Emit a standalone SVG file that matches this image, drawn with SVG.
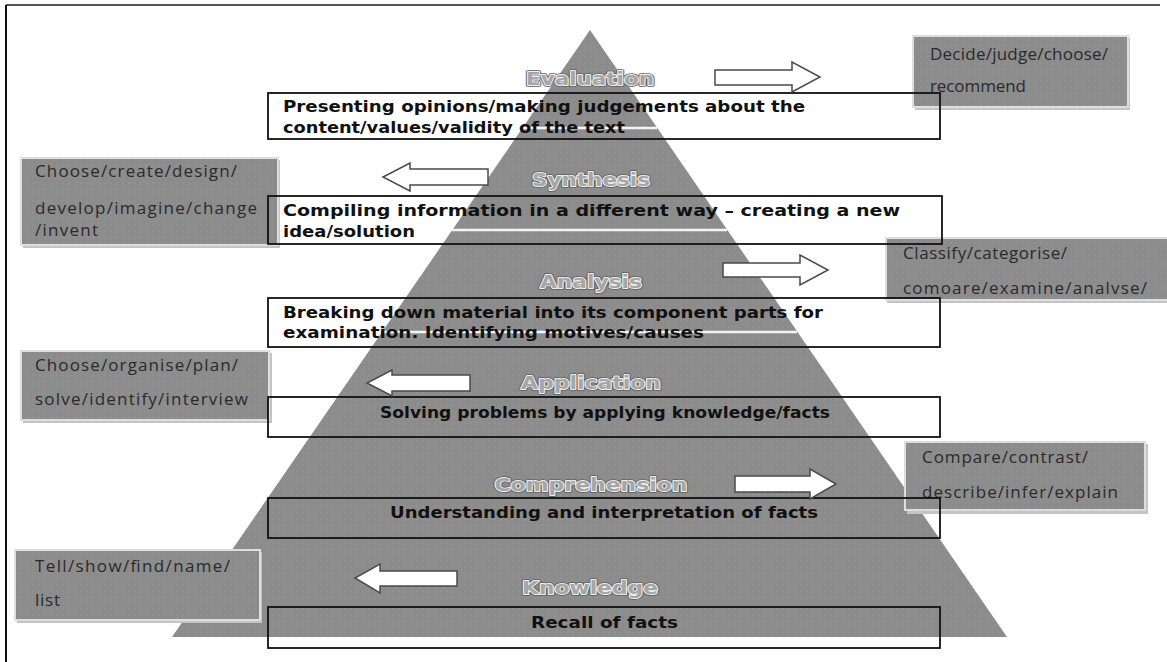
<svg xmlns="http://www.w3.org/2000/svg" width="1167" height="662" viewBox="0 0 1167 662">
  <defs>
    <pattern id="dots" width="6" height="6" patternUnits="userSpaceOnUse">
      <rect width="6" height="6" fill="#8c8c8c"/>
      <circle cx="3" cy="3" r="0.6" fill="#a0a0a0"/>
    </pattern>
    <style>
      .frame-top { stroke: #555; stroke-width: 2; }
      .frame-left { stroke: #111; stroke-width: 2; }
      .sep { stroke: #f4f4f4; stroke-width: 2.5; }
      .desc-box { fill: none; stroke: #111; stroke-width: 1.8; }
      .desc { font-family: "DejaVu Sans", "Liberation Sans", sans-serif; font-weight: bold; font-size: 16.5px; fill: #111; }
      .side-shadow { fill: #c4c4c4; }
      .side-box { fill: url(#dots); stroke: #dedede; stroke-width: 2; }
      .verb { font-family: "Open Sans", "Liberation Sans", sans-serif; font-size: 17px; fill: #2a2a2a; }
      .lvl { font-family: "DejaVu Sans", sans-serif; font-weight: bold; font-size: 17px; text-anchor: middle; }
      .lvl-a { fill: none; stroke: #5e5e5e; stroke-width: 3.4; stroke-linejoin: round; }
      .lvl-b { fill: none; stroke: #f0f0f0; stroke-width: 1.8; stroke-linejoin: round; }
      .lvl-c { fill: #a6a6a6; }
      .arrow { fill: #fff; stroke: #4a4a4a; stroke-width: 1.5; stroke-linejoin: miter; }
    </style>
  </defs>

  <rect width="1167" height="662" fill="#fff"/>

  <!-- outer frame -->
  <line class="frame-top" x1="6" y1="5" x2="1160" y2="5"/>
  <line class="frame-left" x1="6" y1="5" x2="6" y2="662"/>

  <!-- pyramid body -->
  <g id="pyramid">
    <polygon points="590,30 1007,637 172,637" fill="url(#dots)"/>
    <line class="sep" x1="522" y1="128" x2="657" y2="128"/>
    <line class="sep" x1="452" y1="230" x2="727" y2="230"/>
    <line class="sep" x1="382" y1="332" x2="797" y2="332"/>
  </g>

  <!-- verb panels beside the pyramid -->
  <g id="verbs-evaluation">
    <rect class="side-shadow" x="915" y="38" width="215" height="72"/>
    <rect class="side-box" x="913" y="36" width="215" height="71"/>
    <text class="verb" x="930" y="60" textLength="178">Decide/judge/choose/</text>
    <text class="verb" x="930" y="92" textLength="96">recommend</text>
  </g>
  <g id="verbs-synthesis">
    <rect class="side-shadow" x="23" y="160" width="257" height="88"/>
    <rect class="side-box" x="21" y="158" width="257" height="87"/>
    <text class="verb" x="35" y="177" textLength="202">Choose/create/design/</text>
    <text class="verb" x="35" y="214" textLength="222">develop/imagine/change</text>
    <text class="verb" x="35" y="236" textLength="63">/invent</text>
  </g>
  <g id="verbs-analysis">
    <rect class="side-shadow" x="887" y="240" width="282" height="63"/>
    <rect class="side-box" x="886" y="238" width="283" height="62"/>
    <text class="verb" x="903" y="259" textLength="164">Classify/categorise/</text>
    <text class="verb" x="903" y="294" textLength="244">comoare/examine/analvse/</text>
  </g>
  <g id="verbs-application">
    <rect class="side-shadow" x="23" y="353" width="249" height="70"/>
    <rect class="side-box" x="21" y="351" width="248" height="69"/>
    <text class="verb" x="35" y="371" textLength="203">Choose/organise/plan/</text>
    <text class="verb" x="35" y="405" textLength="213">solve/identify/interview</text>
  </g>
  <g id="verbs-comprehension">
    <rect class="side-shadow" x="907" y="444" width="241" height="70"/>
    <rect class="side-box" x="905" y="442" width="240" height="68"/>
    <text class="verb" x="922" y="463" textLength="166">Compare/contrast/</text>
    <text class="verb" x="922" y="498" textLength="196">describe/infer/explain</text>
  </g>
  <g id="verbs-knowledge">
    <rect class="side-shadow" x="17" y="552" width="245" height="71"/>
    <rect class="side-box" x="15" y="550" width="245" height="70"/>
    <text class="verb" x="35" y="572" textLength="195">Tell/show/find/name/</text>
    <text class="verb" x="35" y="606" textLength="25">list</text>
  </g>

  <!-- level names on the pyramid -->
  <g id="level-names">
    <g id="name-evaluation">
      <text class="lvl lvl-a" x="590" y="85" textLength="128" lengthAdjust="spacingAndGlyphs">Evaluation</text>
      <text class="lvl lvl-b" x="590" y="85" textLength="128" lengthAdjust="spacingAndGlyphs">Evaluation</text>
      <text class="lvl lvl-c" x="590" y="85" textLength="128" lengthAdjust="spacingAndGlyphs">Evaluation</text>
    </g>
    <g id="name-synthesis">
      <text class="lvl lvl-a" x="591" y="186" textLength="118" lengthAdjust="spacingAndGlyphs">Synthesis</text>
      <text class="lvl lvl-b" x="591" y="186" textLength="118" lengthAdjust="spacingAndGlyphs">Synthesis</text>
      <text class="lvl lvl-c" x="591" y="186" textLength="118" lengthAdjust="spacingAndGlyphs">Synthesis</text>
    </g>
    <g id="name-analysis">
      <text class="lvl lvl-a" x="591" y="288" textLength="102" lengthAdjust="spacingAndGlyphs">Analysis</text>
      <text class="lvl lvl-b" x="591" y="288" textLength="102" lengthAdjust="spacingAndGlyphs">Analysis</text>
      <text class="lvl lvl-c" x="591" y="288" textLength="102" lengthAdjust="spacingAndGlyphs">Analysis</text>
    </g>
    <g id="name-application">
      <text class="lvl lvl-a" x="591" y="389" textLength="140" lengthAdjust="spacingAndGlyphs">Application</text>
      <text class="lvl lvl-b" x="591" y="389" textLength="140" lengthAdjust="spacingAndGlyphs">Application</text>
      <text class="lvl lvl-c" x="591" y="389" textLength="140" lengthAdjust="spacingAndGlyphs">Application</text>
    </g>
    <g id="name-comprehension">
      <text class="lvl lvl-a" x="591" y="491" textLength="193" lengthAdjust="spacingAndGlyphs">Comprehension</text>
      <text class="lvl lvl-b" x="591" y="491" textLength="193" lengthAdjust="spacingAndGlyphs">Comprehension</text>
      <text class="lvl lvl-c" x="591" y="491" textLength="193" lengthAdjust="spacingAndGlyphs">Comprehension</text>
    </g>
    <g id="name-knowledge">
      <text class="lvl lvl-a" x="590" y="594" textLength="136" lengthAdjust="spacingAndGlyphs">Knowledge</text>
      <text class="lvl lvl-b" x="590" y="594" textLength="136" lengthAdjust="spacingAndGlyphs">Knowledge</text>
      <text class="lvl lvl-c" x="590" y="594" textLength="136" lengthAdjust="spacingAndGlyphs">Knowledge</text>
    </g>
  </g>

  <!-- description boxes -->
  <g id="desc-evaluation">
    <rect class="desc-box" x="268" y="93" width="672" height="46"/>
    <text class="desc" x="283" y="112" textLength="522" lengthAdjust="spacingAndGlyphs">Presenting opinions/making judgements about the</text>
    <text class="desc" x="283" y="133" textLength="342" lengthAdjust="spacingAndGlyphs">content/values/validity of the text</text>
  </g>
  <g id="desc-synthesis">
    <rect class="desc-box" x="268" y="196" width="674" height="48"/>
    <text class="desc" x="283" y="216" textLength="617" lengthAdjust="spacingAndGlyphs">Compiling information in a different way – creating a new</text>
    <text class="desc" x="283" y="237" textLength="132" lengthAdjust="spacingAndGlyphs">idea/solution</text>
  </g>
  <g id="desc-analysis">
    <rect class="desc-box" x="268" y="298" width="672" height="49"/>
    <text class="desc" x="283" y="318" textLength="540" lengthAdjust="spacingAndGlyphs">Breaking down material into its component parts for</text>
    <text class="desc" x="283" y="338" textLength="421" lengthAdjust="spacingAndGlyphs">examination.  Identifying motives/causes</text>
  </g>
  <g id="desc-application">
    <rect class="desc-box" x="268" y="397" width="672" height="40"/>
    <text class="desc" x="380" y="418" textLength="450" lengthAdjust="spacingAndGlyphs">Solving problems by applying knowledge/facts</text>
  </g>
  <g id="desc-comprehension">
    <rect class="desc-box" x="268" y="498" width="672" height="40"/>
    <text class="desc" x="390" y="518" textLength="428" lengthAdjust="spacingAndGlyphs">Understanding and interpretation of facts</text>
  </g>
  <g id="desc-knowledge">
    <rect class="desc-box" x="268" y="607" width="672" height="41"/>
    <text class="desc" x="531" y="628" textLength="147" lengthAdjust="spacingAndGlyphs">Recall of facts</text>
  </g>

  <!-- block arrows pointing to the verb panels -->
  <g id="connectors">
    <polygon class="arrow" points="715,70 792,70 792,62 820,77 792,92 792,85 715,85"/>
    <polygon class="arrow" points="488,169 410,169 410,163 383,177 410,191 410,185 488,185"/>
    <polygon class="arrow" points="723,263 800,263 800,255 828,270 800,285 800,277 723,277"/>
    <polygon class="arrow" points="470,375 392,375 392,370 367,383 392,396 392,391 470,391"/>
    <polygon class="arrow" points="735,476 810,476 810,469 836,484 810,499 810,492 735,492"/>
    <polygon class="arrow" points="457,571 380,571 380,564 355,578 380,593 380,586 457,586"/>
  </g>
</svg>
